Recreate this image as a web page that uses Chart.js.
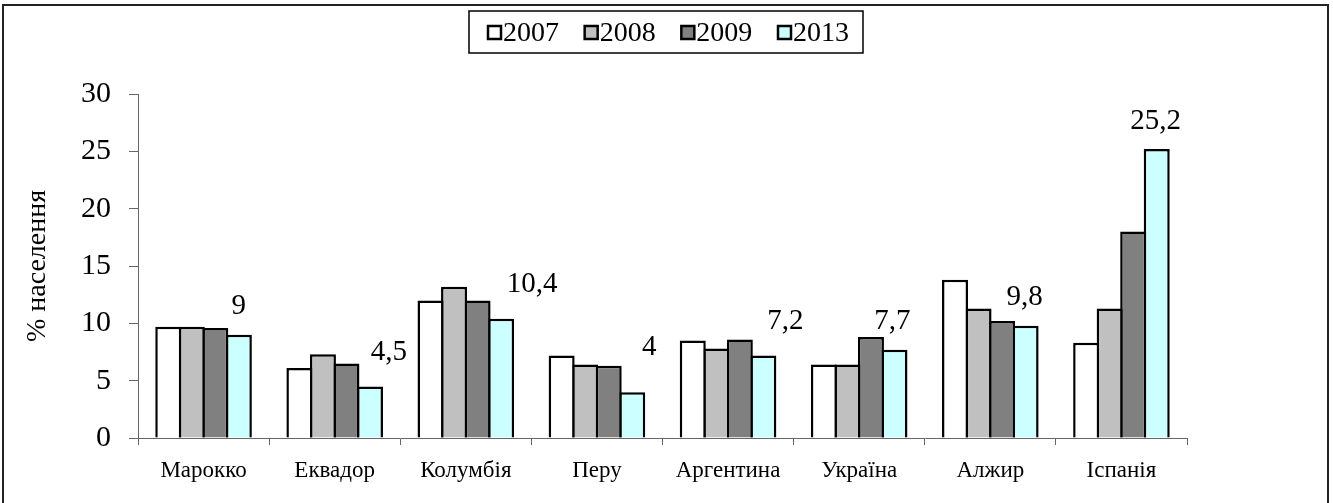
<!DOCTYPE html>
<html><head><meta charset="utf-8">
<script src="https://cdn.jsdelivr.net/npm/chart.js@4.4.0/dist/chart.umd.min.js"></script>
<style>html,body{margin:0;padding:0;background:#fff;} #wrap{width:1333px;height:503px;position:relative;}</style>
</head><body><div id="wrap"><canvas id="c"></canvas></div>
<script>
const categories = ['Марокко','Еквадор','Колумбія','Перу','Аргентина','Україна','Алжир','Іспанія'];
const years = ['2007','2008','2009','2013'];
const values2007 = [9.7, 6.1, 12.0, 7.2, 8.5, 6.4, 13.8, 8.3];
const values2008 = [9.7, 7.3, 13.2, 6.4, 7.8, 6.4, 11.3, 11.3];
const values2009 = [9.6, 6.5, 12.0, 6.3, 8.6, 8.8, 10.2, 18.0];
const values2013 = [9.0, 4.5, 10.4, 4.0, 7.2, 7.7, 9.8, 25.2];
const yTicks = [0, 5, 10, 15, 20, 25, 30];
const yTitle = '% населення';

const seriesColors = ['#FFFFFF', '#C0C0C0', '#808080', '#CCFFFF'];
const labelNudgeX = [0, 19, 31, 17, 22, -2, -1, -1];
const labelNudgeY = [0, 6, 6, 17, 6, 0, 0, 0];
const FONT = "'Liberation Serif', 'Times New Roman', serif";

const allSeries = [values2007, values2008, values2009, values2013];

const framePlugin = {
  id: 'frame',
  afterDraw(chart) {
    const ctx = chart.ctx;
    ctx.save();
    ctx.strokeStyle = '#222';
    ctx.lineWidth = 2;
    ctx.strokeRect(3, 5, 1325, 510);
    ctx.restore();
  }
};

const legendPlugin = {
  id: 'boxLegend',
  afterDraw(chart) {
    const ctx = chart.ctx;
    ctx.save();
    const bx = 469, by = 11, bw = 394, bh = 42;
    ctx.fillStyle = '#fff';
    ctx.fillRect(bx, by, bw, bh);
    ctx.strokeStyle = '#000';
    ctx.lineWidth = 1.5;
    ctx.strokeRect(bx, by, bw, bh);
    ctx.font = '28px ' + FONT;
    ctx.textBaseline = 'middle';
    ctx.textAlign = 'left';
    const sq = 13, gap = 2;
    const start = 488, end = 849;
    const widths = chart.data.datasets.map(d => ctx.measureText(d.label).width);
    const total = widths.reduce((a, b) => a + b, 0) + chart.data.datasets.length * (sq + gap);
    const spacing = (end - start - total) / (chart.data.datasets.length - 1);
    let x = start;
    const cy = by + bh / 2 + 0.5;
    chart.data.datasets.forEach((d, i) => {
      ctx.fillStyle = d.backgroundColor;
      ctx.fillRect(x, cy - sq / 2, sq, sq);
      ctx.strokeStyle = '#000';
      ctx.lineWidth = 2.5;
      ctx.strokeRect(x, cy - sq / 2, sq, sq);
      ctx.fillStyle = '#000';
      ctx.fillText(d.label, x + sq + gap, cy + 1);
      x += sq + gap + widths[i] + spacing;
    });
    ctx.restore();
  }
};

const dataLabelPlugin = {
  id: 'dataLabels',
  afterDatasetsDraw(chart) {
    const ctx = chart.ctx;
    const di = chart.data.datasets.length - 1;
    const meta = chart.getDatasetMeta(di);
    ctx.save();
    ctx.font = '29px ' + FONT;
    ctx.fillStyle = '#000';
    ctx.textAlign = 'center';
    ctx.textBaseline = 'middle';
    meta.data.forEach((bar, i) => {
      const v = chart.data.datasets[di].data[i];
      const txt = String(v).replace('.', ',');
      ctx.fillText(txt, bar.x + labelNudgeX[i], bar.y - 28 - labelNudgeY[i]);
    });
    ctx.restore();
  }
};

new Chart(document.getElementById('c'), {
  type: 'bar',
  data: {
    labels: categories,
    datasets: years.map((y, i) => ({
      label: y,
      data: allSeries[i],
      backgroundColor: seriesColors[i],
      borderColor: '#000',
      borderWidth: 2.5,
      borderSkipped: 'bottom',
      categoryPercentage: 0.7176,
      barPercentage: 1.106
    }))
  },
  options: {
    responsive: true,
    maintainAspectRatio: false,
    animation: false,
    devicePixelRatio: 1,
    layout: { padding: { left: 0, top: 94, right: 146, bottom: 0 } },
    plugins: { legend: { display: false }, tooltip: { enabled: false } },
    scales: {
      x: {
        offset: true,
        grid: { display: true, drawOnChartArea: false, drawTicks: true, tickLength: 7, offset: true, color: '#666', lineWidth: 1 },
        border: { display: true, color: '#666', width: 1 },
        ticks: { font: { family: FONT, size: 23 }, color: '#000', padding: 12, maxRotation: 0, autoSkip: false },
        afterFit(s) { s.height = 65; }
      },
      y: {
        min: 0, max: 30,
        afterBuildTicks(s) { s.ticks = yTicks.map(v => ({ value: v })); },
        grid: { display: true, drawOnChartArea: false, drawTicks: true, tickLength: 9, color: '#666', lineWidth: 1 },
        border: { display: true, color: '#666', width: 1 },
        ticks: { font: { family: FONT, size: 30 }, color: '#000', padding: 18 },
        title: { display: true, text: yTitle, font: { family: FONT, size: 28 }, color: '#000', padding: { top: 21, bottom: 0 } },
        afterFit(s) { s.width = 138; }
      }
    }
  },
  plugins: [dataLabelPlugin, legendPlugin, framePlugin]
});
</script></body></html>
